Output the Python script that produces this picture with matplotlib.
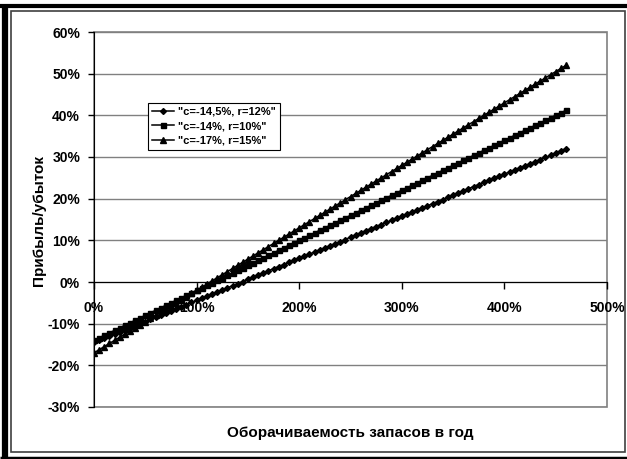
import matplotlib.pyplot as plt
from matplotlib.lines import Line2D
from matplotlib.patches import Rectangle
from matplotlib.ticker import FuncFormatter, MultipleLocator

plt.rcParams['font.family'] = ['Liberation Sans', 'DejaVu Sans']
plt.rcParams['font.weight'] = 'bold'

# оборачиваемость запасов, % в год
turnover = list(range(0, 465, 5))

# прибыль/убыток, %
profit_a = [-14.5, -14.0, -13.5, -13.0, -12.5, -12.0, -11.5, -11.0, -10.5, -10.0,
            -9.5, -8.9, -8.4, -7.9, -7.4, -6.9, -6.4, -5.9, -5.4, -4.9,
            -4.4, -3.9, -3.4, -2.9, -2.4, -1.9, -1.4, -0.9, -0.4, 0.1,
            0.7, 1.2, 1.7, 2.2, 2.7, 3.2, 3.7, 4.2, 4.7, 5.2,
            5.7, 6.2, 6.7, 7.2, 7.7, 8.2, 8.7, 9.2, 9.7, 10.2,
            10.8, 11.3, 11.8, 12.3, 12.8, 13.3, 13.8, 14.3, 14.8, 15.3,
            15.8, 16.3, 16.8, 17.3, 17.8, 18.3, 18.8, 19.3, 19.8, 20.3,
            20.9, 21.4, 21.9, 22.4, 22.9, 23.4, 23.9, 24.4, 24.9, 25.4,
            25.9, 26.4, 26.9, 27.4, 27.9, 28.4, 28.9, 29.4, 29.9, 30.4,
            31.0, 31.5, 32.0]
profit_b = [-14.0, -13.4, -12.8, -12.2, -11.6, -11.0, -10.4, -9.8, -9.2, -8.6,
            -8.0, -7.4, -6.8, -6.2, -5.6, -5.0, -4.4, -3.8, -3.2, -2.6,
            -2.0, -1.4, -0.8, -0.2, 0.4, 1.0, 1.6, 2.2, 2.8, 3.4,
            4.0, 4.6, 5.2, 5.8, 6.4, 7.0, 7.6, 8.2, 8.8, 9.4,
            10.0, 10.6, 11.2, 11.8, 12.4, 13.0, 13.6, 14.2, 14.8, 15.4,
            16.0, 16.6, 17.2, 17.8, 18.4, 19.0, 19.6, 20.2, 20.8, 21.4,
            22.0, 22.6, 23.2, 23.8, 24.4, 25.0, 25.6, 26.2, 26.8, 27.4,
            28.0, 28.6, 29.2, 29.8, 30.4, 31.0, 31.6, 32.2, 32.8, 33.4,
            34.0, 34.6, 35.2, 35.8, 36.4, 37.0, 37.6, 38.2, 38.8, 39.4,
            40.0, 40.6, 41.2]
profit_c = [-17.0, -16.25, -15.5, -14.75, -14.0, -13.25, -12.5, -11.75, -11.0, -10.25,
            -9.5, -8.75, -8.0, -7.25, -6.5, -5.75, -5.0, -4.25, -3.5, -2.75,
            -2.0, -1.25, -0.5, 0.25, 1.0, 1.75, 2.5, 3.25, 4.0, 4.75,
            5.5, 6.25, 7.0, 7.75, 8.5, 9.25, 10.0, 10.75, 11.5, 12.25,
            13.0, 13.75, 14.5, 15.25, 16.0, 16.75, 17.5, 18.25, 19.0, 19.75,
            20.5, 21.25, 22.0, 22.75, 23.5, 24.25, 25.0, 25.75, 26.5, 27.25,
            28.0, 28.75, 29.5, 30.25, 31.0, 31.75, 32.5, 33.25, 34.0, 34.75,
            35.5, 36.25, 37.0, 37.75, 38.5, 39.25, 40.0, 40.75, 41.5, 42.25,
            43.0, 43.75, 44.5, 45.25, 46.0, 46.75, 47.5, 48.25, 49.0, 49.75,
            50.5, 51.25, 52.0]

labels = ['"c=-14,5%, r=12%"', '"c=-14%, r=10%"', '"c=-17%, r=15%"']

W, H = 627, 459
fig = plt.figure(figsize=(W / 100, H / 100), dpi=100)
ax = fig.add_axes([94 / W, 1 - 407 / H, 513 / W, 375 / H])

grey = '#808080'
ax.plot(turnover, profit_a, color='black', lw=1.1, marker='D', ms=3.0, label=labels[0])
ax.plot(turnover, profit_b, color='black', lw=1.1, marker='s', ms=3.6, label=labels[1])
ax.plot(turnover, profit_c, color='black', lw=1.1, marker='^', ms=4.4, label=labels[2])

ax.set_xlim(0, 500)
ax.set_ylim(-30, 60)
ax.xaxis.set_major_locator(MultipleLocator(100))
ax.yaxis.set_major_locator(MultipleLocator(10))
pct = FuncFormatter(lambda v, p: f'{v:.0f}%')
ax.xaxis.set_major_formatter(pct)
ax.yaxis.set_major_formatter(pct)

ax.grid(axis='y', color=grey, lw=1)
ax.set_axisbelow(True)

# ось X проходит через ноль
ax.spines['bottom'].set_position(('data', 0))
ax.spines['bottom'].set_color('black')
ax.spines['left'].set_color('black')
ax.spines['top'].set_visible(False)
ax.spines['right'].set_visible(False)
ax.add_patch(Rectangle((0, 0), 1, 1, transform=ax.transAxes, fill=False,
                       edgecolor=grey, lw=1.2, zorder=0.5, clip_on=False))

ax.tick_params(axis='x', direction='out', length=5, width=1, pad=9,
               labelsize=10)
ax.tick_params(axis='y', direction='out', length=4, width=1, pad=6,
               labelsize=10)
for t in ax.get_xticklabels() + ax.get_yticklabels():
    t.set_fontweight('bold')

leg = ax.legend(loc='upper left', bbox_to_anchor=(148 / W, 1 - 103 / H),
                bbox_transform=fig.transFigure, fontsize=8, frameon=True,
                fancybox=False, edgecolor='black', framealpha=1,
                handlelength=2.0, handletextpad=0.35, borderpad=0.35,
                labelspacing=0.4, borderaxespad=0)
leg.get_frame().set_linewidth(0.8)
for t in leg.get_texts():
    t.set_fontweight('bold')

fig.text(39 / W, 1 - 220 / H, 'Прибыль/убыток', rotation=90, ha='center',
         va='center', fontsize=11, fontweight='bold')
fig.text(350 / W, 1 - 433 / H, 'Оборачиваемость запасов в год', ha='center',
         va='center', fontsize=11, fontweight='bold')

# рамка вокруг диаграммы
def px_line(x0, y0, x1, y1, lw, color='black'):
    fig.add_artist(Line2D([x0 / W, x1 / W], [1 - y0 / H, 1 - y1 / H],
                          transform=fig.transFigure, color=color, lw=lw,
                          solid_capstyle='butt'))

px_line(0, 5.5, W, 5.5, 3)
px_line(5, 4, 5, H, 4.5)
px_line(0, 457.5, W, 457.5, 2.5)
fig.add_artist(Rectangle((11 / W, 1 - 452 / H), 614 / W, 441 / H,
                         transform=fig.transFigure, fill=False,
                         edgecolor='#404040', lw=1.2))

fig.savefig('out.png', dpi=100)
